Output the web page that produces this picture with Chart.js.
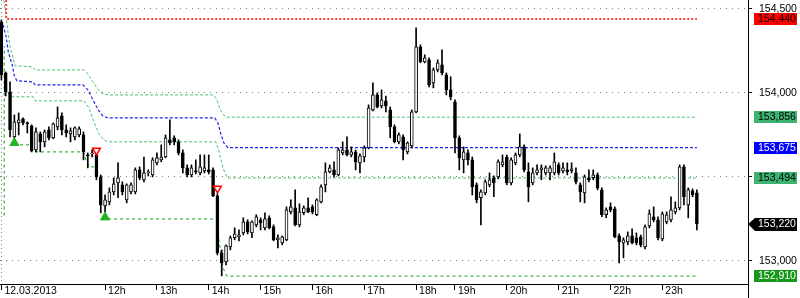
<!DOCTYPE html>
<html>
<head>
<meta charset="utf-8">
<script src="https://cdn.jsdelivr.net/npm/chart.js@4.4.1/dist/chart.umd.min.js"></script>
<style>
  html, body { margin: 0; padding: 0; background: #fff; }
  #wrap { width: 800px; height: 298px; }
</style>
</head>
<body>
<div id="wrap"><canvas id="chart" width="800" height="298"></canvas></div>
<script>
// 5-minute bars, 12.03.2013 10:00 .. 23:40
const opens = [
  154.423,154.119,154.006,153.738,153.822,153.846,153.822,153.804,153.661,153.756,
  153.709,153.780,153.733,153.798,153.863,153.780,153.756,153.738,153.750,153.750,
  153.631,153.637,153.631,153.500,153.328,153.352,153.411,153.465,153.453,153.364,
  153.411,153.411,153.542,153.483,153.524,153.512,153.584,153.602,153.619,153.721,
  153.733,153.709,153.643,153.554,153.512,153.536,153.524,153.536,153.542,153.542,
  153.388,153.048,152.995,153.084,153.138,153.143,153.167,153.233,153.167,153.215,
  153.245,153.197,153.257,153.203,153.126,153.108,153.126,153.292,153.316,153.215,
  153.287,153.316,153.322,153.275,153.352,153.453,153.530,153.542,153.512,153.643,
  153.661,153.631,153.649,153.584,153.619,153.673,153.899,153.988,153.923,153.953,
  153.899,153.798,153.709,153.739,153.649,153.685,153.887,154.274,154.185,154.197,
  154.060,154.137,154.167,154.107,154.018,153.947,153.733,153.602,153.643,153.602,
  153.453,153.376,153.405,153.453,153.495,153.500,153.572,153.619,153.465,153.584,
  153.631,153.679,153.530,153.465,153.524,153.542,153.524,153.524,153.524,153.572,
  153.536,153.542,153.536,153.524,153.453,153.405,153.495,153.495,153.512,153.423,
  153.275,153.322,153.310,153.149,153.108,153.114,153.149,153.138,153.143,153.084,
  153.209,153.263,153.245,153.132,153.233,153.245,153.292,153.316,153.560,153.334,
  153.417,153.405
];
const highs = [
  154.435,154.125,154.066,153.869,153.881,153.852,153.828,153.810,153.792,153.768,
  153.780,153.798,153.822,153.917,153.881,153.810,153.792,153.798,153.798,153.768,
  153.643,153.661,153.649,153.512,153.393,153.435,153.495,153.584,153.471,153.459,
  153.465,153.554,153.560,153.619,153.542,153.614,153.643,153.691,153.750,153.840,
  153.745,153.721,153.661,153.572,153.572,153.602,153.631,153.631,153.631,153.554,
  153.399,153.066,153.096,153.149,153.197,153.185,153.257,153.245,153.239,153.275,
  153.257,153.287,153.269,153.215,153.155,153.149,153.322,153.364,153.423,153.340,
  153.328,153.376,153.334,153.370,153.453,153.584,153.572,153.590,153.673,153.709,
  153.739,153.679,153.661,153.637,153.685,153.929,154.060,154.000,154.018,153.982,
  153.917,153.810,153.762,153.750,153.709,153.899,154.387,154.286,154.227,154.209,
  154.149,154.197,154.256,154.119,154.096,153.959,153.745,153.679,153.661,153.619,
  153.465,153.423,153.483,153.524,153.506,153.602,153.631,153.631,153.614,153.643,
  153.756,153.691,153.584,153.554,153.572,153.572,153.566,153.566,153.643,153.584,
  153.584,153.584,153.584,153.554,153.465,153.512,153.542,153.542,153.524,153.435,
  153.316,153.346,153.322,153.161,153.138,153.173,153.191,153.167,153.155,153.215,
  153.304,153.322,153.263,153.292,153.292,153.382,153.352,153.572,153.572,153.435,
  153.429,153.423
];
const lows = [
  154.078,153.982,153.738,153.732,153.750,153.810,153.762,153.649,153.649,153.649,
  153.679,153.721,153.727,153.780,153.750,153.738,153.709,153.721,153.738,153.602,
  153.554,153.619,153.483,153.286,153.292,153.334,153.393,153.376,153.393,153.346,
  153.399,153.399,153.483,153.471,153.506,153.500,153.572,153.590,153.614,153.691,
  153.691,153.631,153.524,153.500,153.500,153.518,153.512,153.524,153.518,153.382,
  153.036,152.911,152.977,153.066,153.126,153.120,153.155,153.161,153.138,153.203,
  153.185,153.185,153.191,153.120,153.078,153.096,153.120,153.280,153.209,153.203,
  153.275,153.287,153.280,153.269,153.346,153.411,153.524,153.500,153.506,153.631,
  153.625,153.619,153.542,153.524,153.590,153.667,153.893,153.911,153.911,153.887,
  153.733,153.703,153.697,153.602,153.637,153.673,153.881,154.179,154.179,154.036,
  154.030,154.125,154.107,153.988,153.959,153.643,153.542,153.524,153.572,153.393,
  153.346,153.215,153.393,153.441,153.382,153.489,153.560,153.453,153.453,153.572,
  153.619,153.530,153.352,153.453,153.512,153.483,153.512,153.483,153.512,153.512,
  153.524,153.512,153.524,153.459,153.352,153.346,153.471,153.483,153.423,153.263,
  153.257,153.292,153.138,152.989,153.019,153.096,153.102,153.096,153.084,153.072,
  153.197,153.233,153.126,153.120,153.221,153.233,153.280,153.304,153.334,153.257,
  153.382,153.185
];
const closes = [
  154.107,154.006,153.780,153.828,153.840,153.822,153.816,153.655,153.768,153.709,
  153.768,153.733,153.816,153.852,153.780,153.762,153.774,153.792,153.786,153.649,
  153.625,153.643,153.500,153.334,153.364,153.411,153.459,153.495,153.411,153.453,
  153.453,153.542,153.495,153.524,153.530,153.602,153.614,153.619,153.733,153.703,
  153.709,153.643,153.554,153.512,153.554,153.530,153.560,153.554,153.530,153.388,
  153.048,152.989,153.090,153.138,153.161,153.155,153.233,153.173,153.233,153.263,
  153.227,153.251,153.197,153.126,153.138,153.143,153.304,153.322,153.215,153.292,
  153.316,153.292,153.292,153.364,153.441,153.530,153.554,153.512,153.661,153.661,
  153.631,153.649,153.590,153.625,153.673,153.911,153.988,153.917,153.959,153.923,
  153.798,153.709,153.750,153.661,153.703,153.887,154.274,154.185,154.209,154.048,
  154.137,154.179,154.119,154.018,153.977,153.733,153.614,153.649,153.602,153.441,
  153.364,153.411,153.471,153.483,153.465,153.590,153.590,153.465,153.602,153.631,
  153.679,153.542,153.441,153.524,153.542,153.554,153.554,153.554,153.590,153.524,
  153.554,153.530,153.548,153.471,153.411,153.500,153.483,153.512,153.435,153.275,
  153.304,153.304,153.143,153.114,153.126,153.149,153.108,153.108,153.096,153.203,
  153.280,153.245,153.138,153.280,153.275,153.304,153.316,153.560,153.382,153.423,
  153.393,153.220
];

// bar index of each labelled hour
const hourTicks = [0, 24, 36, 48, 60, 72, 84, 96, 105, 117, 129, 141, 153];
const hourLabels = ['12.03.2013','12h','13h','14h','15h','16h','17h','18h','19h','20h','21h','22h','23h'];
const priceTicks = [153.0, 153.5, 154.0, 154.5];

// channel lines, [bar index, price]
const upperBand = [[0.4,154.58],[1.1,154.453],[1.6,154.346],[2.0,154.274],[2.7,154.209],[3.2,154.161],[7.3,154.155],[7.8,154.137],
  [19.1,154.137],[20,154.113],[21.2,154.066],[22.4,154.018],[23.5,153.994],[24.7,153.988],[49.1,153.988],[49.8,153.965],
  [50.5,153.911],[51.2,153.875],[52.1,153.856],[161,153.856]];
const midBand = [[0.4,154.405],[1.1,154.334],[1.6,154.244],[2.5,154.167],[3.0,154.101],[3.6,154.072],[7.3,154.066],[7.8,154.048],
  [18.9,154.048],[20,154.018],[21.2,153.959],[22.4,153.899],[23.5,153.863],[24.7,153.851],[49.4,153.851],[50.1,153.822],
  [50.8,153.756],[51.5,153.703],[52.4,153.675],[161,153.675]];
const lowerBand = [[1.5,154.00],[2.5,153.977],[7.3,153.977],[7.8,153.953],[19.1,153.953],[20.3,153.911],[21.4,153.828],
  [22.6,153.756],[23.7,153.721],[24.7,153.709],[49.6,153.709],[50.3,153.661],[51.0,153.584],[51.7,153.524],[52.4,153.494],[161,153.494]];
const resistance = [[1.1,154.60],[1.1,154.440],[161,154.440]];
const supports = [
  [[0.65,153.27],[0.65,154.28]],
  [[4.3,153.691],[6.7,153.691]],
  [[7.8,153.649],[19.0,153.649],[19.8,153.584],[20.5,153.560],[21.7,153.560]],
  [[24.7,153.250],[49.5,153.250]],
  [[50.1,153.167],[50.8,153.048],[51.3,152.959],[52.2,152.910],[161,152.910]]
];
const buySignals = [[3,153.703],[24,153.260]];
const sellSignals = [[22,153.658],[50,153.432]];

// price tags on the right axis
const tagValues = [154.440, 153.856, 153.675, 153.494, 153.220, 152.910];
const tagFill = ['#ff0000', '#3cb371', '#0000ff', '#3cb371', '#000000', '#16991a'];
const tagText = ['#000000', '#000000', '#ffffff', '#000000', '#ffffff', '#ffffff'];
const lastTag = 4;

const FONT = '"Liberation Sans", Arial, sans-serif';
const fmt = v => v.toFixed(3).replace('.', ',');

function lineSet(points, color, dash, width) {
  return {
    type: 'line',
    data: points.map(p => ({ x: p[0], y: p[1] })),
    borderColor: color,
    borderDash: dash,
    borderWidth: width,
    pointRadius: 0,
    fill: false,
    tension: 0,
    order: 3
  };
}

const tagPlugin = {
  id: 'tags',
  afterDraw(chart) {
    const ctx = chart.ctx;
    const y = chart.scales.y;
    const right = chart.chartArea.right;
    ctx.save();
    ctx.strokeStyle = '#000';
    ctx.lineWidth = 1;
    ctx.beginPath();
    ctx.moveTo(right + 0.5, chart.chartArea.bottom);
    ctx.lineTo(right + 0.5, chart.height);
    ctx.stroke();
    ctx.font = '10.5px ' + FONT;
    ctx.textBaseline = 'middle';
    ctx.textAlign = 'left';
    tagValues.forEach((v, i) => {
      const py = Math.round(y.getPixelForValue(v));
      ctx.fillStyle = tagFill[i];
      if (i === lastTag) {
        ctx.beginPath();
        ctx.moveTo(right, py);
        ctx.lineTo(right + 7, py - 6);
        ctx.lineTo(right + 49, py - 6);
        ctx.lineTo(right + 49, py + 7);
        ctx.lineTo(right + 7, py + 7);
        ctx.closePath();
        ctx.fill();
      } else {
        ctx.fillRect(right + 6, py - 6, 43, 12);
      }
      ctx.fillStyle = tagText[i];
      ctx.fillText(fmt(v), right + 10, py + 0.5);
    });
    ctx.restore();
  }
};

const datasets = [
  {
    type: 'scatter',
    data: buySignals.map(p => ({ x: p[0], y: p[1] })),
    pointStyle: 'triangle',
    pointRadius: 5.2,
    backgroundColor: '#22b222',
    borderColor: '#22b222',
    borderWidth: 1,
    order: -1
  },
  {
    type: 'scatter',
    data: sellSignals.map(p => ({ x: p[0], y: p[1] })),
    pointStyle: 'triangle',
    rotation: 180,
    pointRadius: 4.5,
    backgroundColor: '#ffffff',
    borderColor: '#ff0000',
    borderWidth: 1.5,
    order: -1
  },
  {
    type: 'bar',
    data: opens.map((o, i) => ({ x: i, y: [o, closes[i]] })),
    backgroundColor: opens.map((o, i) => closes[i] >= o ? '#ffffff' : '#000000'),
    borderColor: '#000000',
    borderWidth: 1,
    borderSkipped: false,
    barThickness: 3,
    minBarLength: 1,
    grouped: false,
    order: 0
  },
  {
    type: 'bar',
    data: lows.map((l, i) => ({ x: i, y: [l, highs[i]] })),
    backgroundColor: '#000000',
    borderWidth: 0,
    barThickness: 1,
    grouped: false,
    order: 1
  },
  lineSet(resistance, '#ff4040', [2, 2], 2),
  lineSet(upperBand, '#4cbf73', [3, 2], 1),
  lineSet(midBand, '#2222ee', [3, 2], 1.2),
  lineSet(lowerBand, '#4cbf73', [3, 2], 1)
];
supports.forEach(s => datasets.push(lineSet(s, '#169a16', [3, 3], 1)));

Chart.defaults.font.family = FONT;
Chart.defaults.font.size = 10.5;
Chart.defaults.color = '#000';

new Chart(document.getElementById('chart'), {
  type: 'bar',
  data: { datasets: datasets },
  options: {
    responsive: false,
    animation: false,
    events: [],
    layout: { padding: 0, autoPadding: false },
    plugins: { legend: { display: false }, tooltip: { enabled: false } },
    scales: {
      x: {
        type: 'linear',
        offset: false,
        min: -0.324,
        max: 172.83,
        afterBuildTicks: s => { s.ticks = hourTicks.map(v => ({ value: v })); },
        afterFit: s => { s.height = 14; s.paddingLeft = 0; s.paddingRight = 0; },
        grid: {
          offset: false,
          drawOnChartArea: true,
          color: c => (c.tick && c.tick.value === 0) ? '#808080' : 'rgba(0,0,0,0)',
          tickColor: '#000',
          tickLength: 6
        },
        border: { display: true, color: '#000', width: 1, dash: [1, 3] },
        ticks: {
          autoSkip: false,
          maxRotation: 0,
          align: 'start',
          labelOffset: 3,
          padding: -5,
          color: '#000',
          callback: (v, i) => hourLabels[i]
        }
      },
      y: {
        type: 'linear',
        position: 'right',
        offset: false,
        min: 152.863,
        max: 154.553,
        afterBuildTicks: s => { s.ticks = priceTicks.map(v => ({ value: v })); },
        afterFit: s => { s.width = 52; s.paddingTop = 0; s.paddingBottom = 0; },
        grid: {
          color: '#808080',
          tickColor: '#000',
          tickLength: 4
        },
        border: { display: true, color: '#000', width: 1, dash: [1, 5] },
        ticks: {
          padding: 7,
          color: '#000',
          callback: v => fmt(v)
        }
      }
    }
  },
  plugins: [tagPlugin]
});
</script>
</body>
</html>
